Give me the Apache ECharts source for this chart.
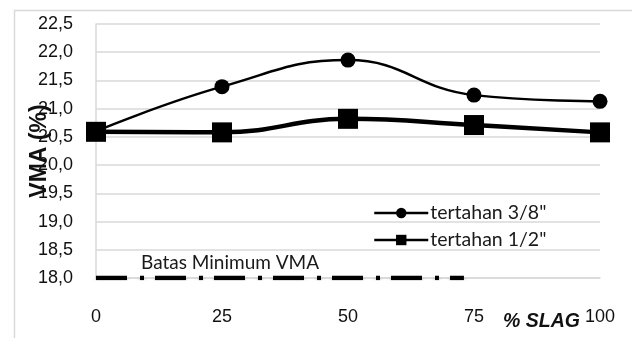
<!DOCTYPE html>
<html>
<head>
<meta charset="utf-8">
<script src="https://cdn.jsdelivr.net/npm/echarts@6/dist/echarts.min.js"></script>
<style>
  html, body { margin: 0; padding: 0; background: #fff; }
  #chart { width: 632px; height: 338px; }
</style>
</head>
<body>
<div id="chart"></div>
<script>
// % slag content on the x axis
const slagPercent = [0, 25, 50, 75, 100];
// VMA (%) for aggregate retained on 3/8" sieve
const vma38 = [20.6, 21.39, 21.86, 21.24, 21.13];
// VMA (%) for aggregate retained on 1/2" sieve
const vma12 = [20.59, 20.58, 20.82, 20.71, 20.58];
// Minimum VMA requirement line
const minVmaX = [0, 73];
const minVmaValue = 18.0;

const yMin = 18.0, yMax = 22.5, yStep = 0.5;
const xMin = 0, xMax = 100, xStep = 25;

const pair = (xs, ys) => xs.map((x, i) => [x, ys[i]]);

const chart = echarts.init(document.getElementById('chart'), null, { renderer: 'canvas' });

const legendFont = 'Lato, "Open Sans", sans-serif';
const axisFont = '"Liberation Sans", Arial, sans-serif';

chart.setOption({
  animation: false,
  backgroundColor: '#ffffff',
  graphic: [
    {
      type: 'rect',
      shape: { x: 14.5, y: 10.5, width: 640, height: 340 },
      style: { fill: 'none', stroke: '#d9d9d9', lineWidth: 1.5 },
      silent: true,
      z: -1
    },
    {
      // x-axis title, sitting just left of the last tick label
      type: 'text',
      left: 503,
      top: 312,
      style: {
        text: '% SLAG',
        font: 'italic bold 19.5px "Liberation Sans", Arial, sans-serif',
        fill: '#111'
      },
      z: 10
    }
  ],
  grid: { left: 96, right: 32, top: 24, bottom: 60, containLabel: false, outerBoundsMode: 'none' },
  legend: {
    orient: 'vertical',
    left: 373,
    top: 203,
    padding: 0,
    itemGap: 7,
    itemWidth: 54,
    itemHeight: 13,
    lineStyle: { width: 2.5, color: '#000' },
    textStyle: { fontFamily: legendFont, fontSize: 19.5, color: '#1a1a1a', padding: [0, 0, 0, -3] },
    data: [
      { name: 'tertahan 3/8"' },
      { name: 'tertahan 1/2"' }
    ]
  },
  xAxis: {
    type: 'value',
    min: xMin, max: xMax, interval: xStep,
    axisLine: { show: true, lineStyle: { color: '#d9d9d9', width: 1.5 } },
    axisTick: { show: false },
    splitLine: { show: false },
    axisLabel: {
      margin: 30,
      fontFamily: axisFont, fontSize: 18, color: '#111'
    }
  },
  yAxis: {
    type: 'value',
    min: yMin, max: yMax, interval: yStep,
    name: 'VMA (%)',
    nameLocation: 'middle',
    nameRotate: 90,
    nameGap: 45,
    nameMoveOverlap: false,
    nameTextStyle: {
      fontFamily: axisFont, fontSize: 23, fontWeight: 'bold', color: '#111'
    },
    axisLine: { show: true, lineStyle: { color: '#d9d9d9', width: 1.5 } },
    axisTick: { show: false },
    splitLine: { show: true, lineStyle: { color: '#d9d9d9', width: 1.5 } },
    axisLabel: {
      margin: 23,
      fontFamily: axisFont, fontSize: 18, color: '#111',
      formatter: v => v.toFixed(1).replace('.', ',')
    }
  },
  series: [
    {
      name: 'Batas Minimum VMA',
      type: 'line',
      data: pair(minVmaX, [minVmaValue, minVmaValue]),
      symbol: 'none',
      lineStyle: {
        color: '#000', width: 4.5,
        type: [31, 13, 4, 11],
        shadowColor: 'rgba(0,0,0,0.45)', shadowBlur: 4, shadowOffsetY: 4
      },
      label: { show: false },
      markPoint: {
        symbol: 'rect', symbolSize: 0,
        label: {
          show: true, formatter: 'Batas Minimum VMA',
          fontFamily: legendFont, fontSize: 19, color: '#1a1a1a'
        },
        data: [{ coord: [26.6, 18.27] }]
      },
      z: 1
    },
    {
      name: 'tertahan 3/8"',
      type: 'line',
      data: pair(slagPercent, vma38),
      smooth: 0.45,
      symbol: 'circle',
      symbolSize: 15,
      itemStyle: { color: '#000' },
      lineStyle: { color: '#000', width: 2.5 },
      z: 3
    },
    {
      name: 'tertahan 1/2"',
      type: 'line',
      data: pair(slagPercent, vma12),
      smooth: 0.45,
      symbol: 'rect',
      symbolSize: 20,
      itemStyle: { color: '#000' },
      lineStyle: { color: '#000', width: 4.5 },
      z: 4
    }
  ]
});
</script>
</body>
</html>
